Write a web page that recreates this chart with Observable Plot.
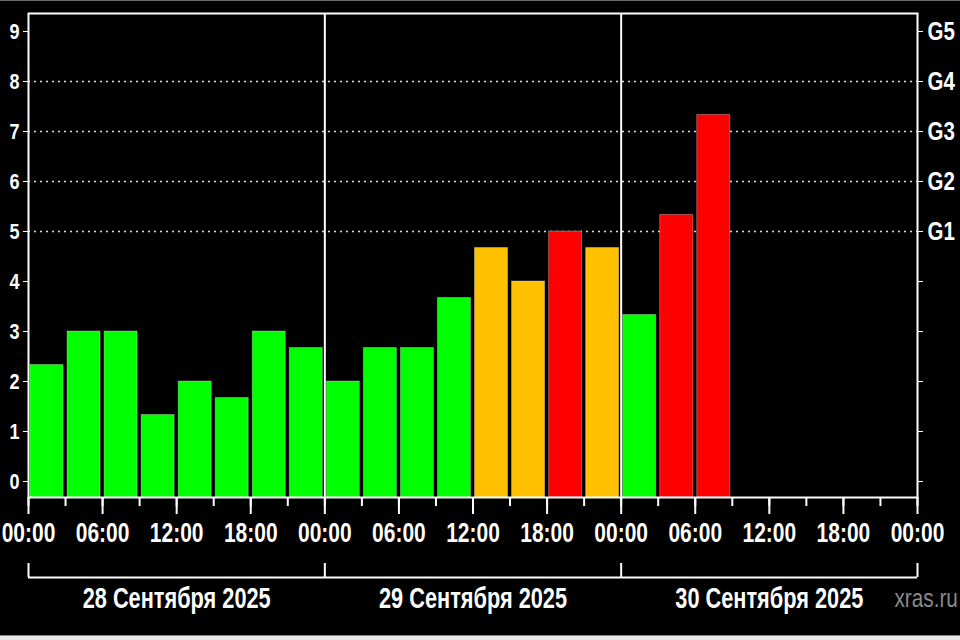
<!DOCTYPE html>
<html>
<head>
<meta charset="utf-8">
<script src="https://cdn.jsdelivr.net/npm/d3@7"></script>
<script src="https://cdn.jsdelivr.net/npm/@observablehq/plot@0.6"></script>
<style>
  html, body { margin: 0; padding: 0; background: #000; }
  #wrap { position: relative; width: 960px; height: 640px; overflow: hidden; }
  #topline { position: absolute; left: 0; top: 0; width: 960px; height: 1px; background: #6a6a6a; }
  #botline { position: absolute; left: 0; bottom: 0; width: 960px; height: 4px; background: #e8e8e8; border-top: 1px solid #888; }
</style>
</head>
<body>
<div id="wrap"><div id="chart"></div><div id="topline"></div><div id="botline"></div></div>
<script>
// Kp index, 3-hour intervals starting 28 Sep 2025 00:00 UTC
const kp = [2.33, 3, 3, 1.33, 2, 1.67, 3, 2.67,
            2, 2.67, 2.67, 3.67, 4.67, 4, 5, 4.67,
            3.33, 5.33, 7.33];
const startTime = "2025-09-28T00:00Z";
const endTime = "2025-10-01T00:00Z";
const dayLabels = ["28 Сентября 2025", "29 Сентября 2025", "30 Сентября 2025"];
const yTicks = [0, 1, 2, 3, 4, 5, 6, 7, 8, 9];
const gLabels = ["G1", "G2", "G3", "G4", "G5"]; // Kp 5..9
const gridLevels = [5, 6, 7, 8];
const hourFormat = "%H:%M";
const watermark = "xras.ru";

const t0 = new Date(startTime);
const t1 = new Date(endTime);
const yDomain = [-0.32, 9.36];

const data = kp.map((v, i) => ({
  start: d3.utcHour.offset(t0, 3 * i),
  end: d3.utcHour.offset(t0, 3 * (i + 1)),
  kp: v
}));
const dayBounds = d3.utcDays(t0, d3.utcHour.offset(t1, 1));
const innerBounds = dayBounds.slice(1, -1);
const noons = d3.utcDays(t0, t1).map(d => d3.utcHour.offset(d, 12));
const hours6 = d3.utcHours(t0, d3.utcHour.offset(t1, 1), 6);
const hours3 = d3.utcHours(t0, d3.utcHour.offset(t1, 1), 3);

const font = "'Liberation Sans', Arial, sans-serif";

const chart = Plot.plot({
  width: 960,
  height: 640,
  marginLeft: 28,
  marginRight: 43,
  marginTop: 13,
  marginBottom: 143,
  style: { background: "#000", color: "#fff", fontFamily: font, fontWeight: "bold" },
  x: { type: "utc", domain: [t0, t1] },
  y: { domain: yDomain },
  color: { type: "threshold", domain: [4, 5], range: ["#00ff00", "#ffc000", "#ff0000"] },
  marks: [
    Plot.ruleY(gridLevels, { stroke: "#e0e0e0", strokeWidth: 1.6, strokeDasharray: "2,4" }),
    Plot.ruleX(innerBounds, { stroke: "#fff", strokeWidth: 2 }),
    Plot.rect(data, {
      x1: "start", x2: "end", y1: () => yDomain[0], y2: "kp",
      fill: d => d.kp, insetLeft: 2, insetRight: 2,
      stroke: "#fff", strokeOpacity: 0.3, strokeWidth: 1
    }),
    Plot.frame({ stroke: "#fff", strokeWidth: 2 }),
    Plot.axisY({ anchor: "left", ticks: yTicks, tickSize: 5, tickPadding: 4, fontSize: 22,
      tickFormat: d => String(d), label: null }),
    Plot.axisY({ anchor: "right", ticks: yTicks, tickSize: 5, tickPadding: 5, fontSize: 25,
      tickFormat: d => d >= 5 ? gLabels[d - 5] : "", label: null }),
    Plot.axisX({ ticks: hours3, tickSize: 9, tickFormat: () => "", label: null, strokeWidth: 2 }),
    Plot.axisX({ ticks: hours6, tickSize: 17, tickPadding: 8, fontSize: 28,
      tickFormat: d3.utcFormat(hourFormat), label: null, strokeWidth: 2 }),
    Plot.axisX({ ticks: dayBounds, tickSize: 14, dy: 66, tickFormat: () => "", label: null, strokeWidth: 2 }),
    Plot.ruleY([yDomain[0]], { dy: 80, stroke: "#fff", strokeWidth: 2 }),
    Plot.axisX({ ticks: noons, tickSize: 0, tickPadding: 0, dy: 90, fontSize: 29,
      tickFormat: d => dayLabels[d3.utcDay.count(t0, d)], label: null }),
    Plot.text([watermark], { frameAnchor: "bottom-right", dx: -23, dy: 101, textAnchor: "start",
      lineAnchor: "middle", fill: "#8a8a8a", fontSize: 25, fontWeight: "normal",
      fontFamily: "'Liberation Sans', Arial, sans-serif", className: "wm" })
  ]
});

// Narrow the bold labels horizontally (the reference uses a condensed face)
function condense(selector, s) {
  d3.select(chart).selectAll(selector).each(function () {
    const el = d3.select(this);
    let x = parseFloat(el.attr("x"));
    if (!isFinite(x)) x = 0;
    const t = el.attr("transform") || "";
    el.attr("transform", `${t} translate(${x},0) scale(${s},1) translate(${-x},0)`);
  });
}
condense("g[aria-label='x-axis tick label'] text", 0.75);
condense("g[aria-label='y-axis tick label'] text", 0.82);
condense(".wm text", 0.83);

document.getElementById("chart").appendChild(chart);
</script>
</body>
</html>
